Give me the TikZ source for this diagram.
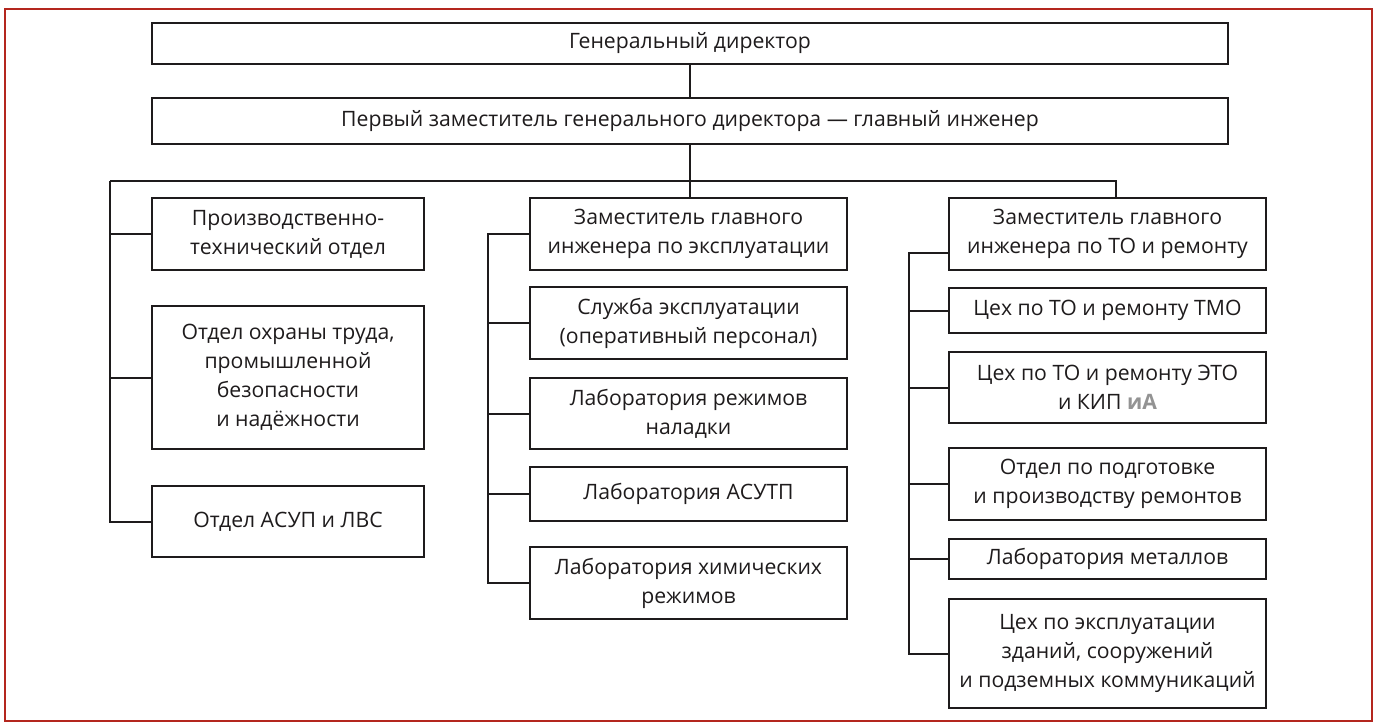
\documentclass[tikz,border=0pt]{standalone}
\usepackage{fontspec}
\setmainfont{Open Sans}
\definecolor{framered}{RGB}{180,38,30}
\definecolor{inkgray}{RGB}{30,27,28}
\tikzset{%
  unitbox/.style = {shape=rectangle, draw=inkgray, line width=2.6pt,%
                    align=center, inner sep=0pt, text=inkgray,%
                    font=\fontsize{21.2}{29}\selectfont},%
  leftbox/.style = {unitbox, minimum width=272pt},%
  midbox/.style  = {unitbox, minimum width=317pt},%
  link/.style    = {draw=inkgray, line width=2pt}%
}
\begin{document}
\begin{tikzpicture}[x=1pt,y=-1pt]
	\useasboundingbox (0,0) rectangle (1377,723);
	\draw [framered, line width=2.6pt] (5,9) rectangle (1372,721);
	% top of the chart
	\node [unitbox, minimum width=1076pt, minimum height=41pt] (gd) at (690,43.5) {Генеральный директор};
	\node [unitbox, minimum width=1076pt, minimum height=46pt] (fz) at (690,121) {Первый заместитель генерального директора — главный инженер};
	% left column
	\node [leftbox, minimum height=72pt] (pto) at (288,234) {Производственно-\\технический отдел};
	\node [leftbox, minimum height=143pt] (oot) at (288,377.5) {Отдел охраны труда,\\промышленной\\безопасности\\и надёжности};
	\node [leftbox, minimum height=71pt] (asup) at (288,521.5) {Отдел АСУП и ЛВС};
	% middle column
	\node [midbox, minimum height=72pt] (zex) at (688.5,234) {Заместитель главного\\инженера по эксплуатации};
	\node [midbox, minimum height=72pt] (sluzh) at (688.5,323) {Служба эксплуатации\\(оперативный персонал)};
	\node [midbox, minimum height=71pt] (lrn) at (688.5,413.5) {Лаборатория режимов\\наладки};
	\node [midbox, minimum height=54pt] (lasutp) at (688.5,494) {Лаборатория АСУТП};
	\node [midbox, minimum height=72pt] (lhim) at (688.5,583) {Лаборатория химических\\режимов};
	% right column
	\node [midbox, minimum height=72pt] (zto) at (1107.5,234) {Заместитель главного\\инженера по ТО и ремонту};
	\node [midbox, minimum height=45pt] (tmo) at (1107.5,310.5) {Цех по ТО и ремонту ТМО};
	\node [midbox, minimum height=71pt] (eto) at (1107.5,387.5) {Цех по ТО и ремонту ЭТО\\и КИП {\color{gray!85}\bfseries иА}};
	\node [midbox, minimum height=72pt] (podg) at (1107.5,484) {Отдел по подготовке\\и производству ремонтов};
	\node [midbox, minimum height=40pt] (met) at (1107.5,559) {Лаборатория металлов};
	\node [midbox, minimum height=109pt] (zd) at (1107.5,653.5) {Цех по эксплуатации\\зданий, сооружений\\и подземных коммуникаций};
	% connectors
	\draw [link] (gd.south) -- (gd.south |- fz.north);
	\draw [link] (fz.south) -- (fz.south |- zex.north);
	\coordinate (lbus) at (110,181);
	\coordinate (rbus) at (1116,181);
	\draw [link] (lbus) -- (rbus) -- (rbus |- zto.north);
	\draw [link] (lbus) |- (asup.west);
	\foreach \n in {pto,oot}
		\draw [link] (lbus |- \n.west) -- (\n.west);
	\coordinate (mbus) at (488,234);
	\draw [link] (zex.west) -- (mbus) |- (lhim.west);
	\foreach \n in {sluzh,lrn,lasutp}
		\draw [link] (mbus |- \n.west) -- (\n.west);
	\coordinate (rtop) at (909,253);
	\draw [link] (rtop -| zto.west) -- (rtop) |- (zd.west);
	\foreach \n in {tmo,eto,podg,met}
		\draw [link] (rtop |- \n.west) -- (\n.west);
\end{tikzpicture}
\end{document}
